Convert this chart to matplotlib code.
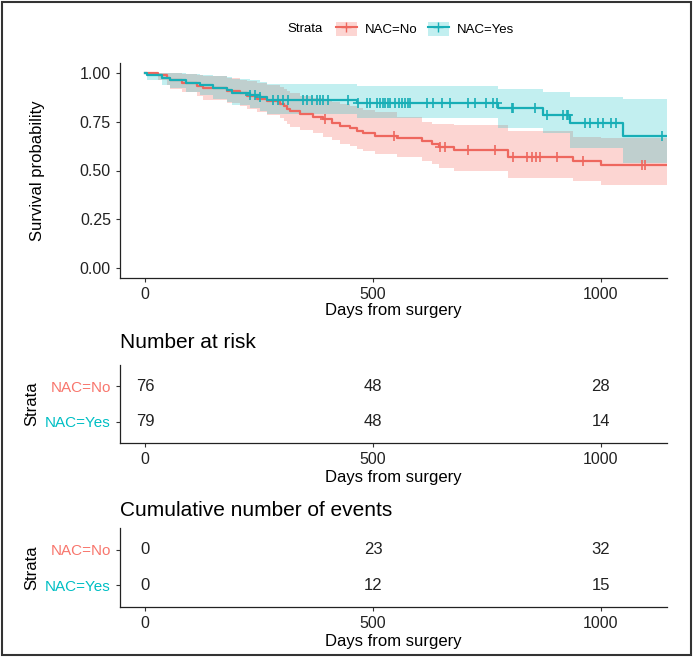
import numpy as np
import matplotlib
matplotlib.use("Agg")
import matplotlib.pyplot as plt
from matplotlib.lines import Line2D
from matplotlib.patches import Patch, Rectangle

plt.rcParams['font.family'] = ['Liberation Sans', 'DejaVu Sans']

# --- data ---
last_day = 1145

no_t = [0, 29, 48, 55, 80, 113, 128, 179, 208, 223, 245, 267, 296, 305, 311, 318, 340, 369,
        391, 409, 428, 450, 464, 479, 504, 552, 607, 629, 645, 678, 797, 938, 1001]
no_s = [1.0, 0.987, 0.974, 0.961, 0.947, 0.934, 0.921, 0.908, 0.895, 0.882, 0.868, 0.855,
        0.842, 0.829, 0.816, 0.803, 0.789, 0.776, 0.762, 0.745, 0.728, 0.715, 0.702, 0.690,
        0.677, 0.665, 0.650, 0.637, 0.620, 0.604, 0.569, 0.547, 0.527]
no_hi = [1.0, 1.0, 1.0, 1.0, 0.995, 0.99, 0.985, 0.975, 0.965, 0.958, 0.948, 0.937, 0.925,
         0.915, 0.905, 0.895, 0.88, 0.87, 0.86, 0.85, 0.84, 0.83, 0.82, 0.81, 0.80, 0.776,
         0.748, 0.740, 0.736, 0.732, 0.700, 0.673, 0.665]
no_lo = [1.0, 0.962, 0.94, 0.918, 0.90, 0.88, 0.862, 0.845, 0.83, 0.815, 0.80, 0.785, 0.768,
         0.752, 0.738, 0.722, 0.706, 0.69, 0.673, 0.655, 0.638, 0.623, 0.61, 0.598, 0.585,
         0.567, 0.548, 0.532, 0.515, 0.50, 0.463, 0.445, 0.424]
no_cens = [395, 545, 647, 658, 709, 768, 808, 837, 848, 858, 866, 903, 961, 1090, 1096]

yes_t = [0, 4, 37, 55, 90, 121, 150, 179, 190, 230, 252, 267, 464, 775, 873, 932, 1049]
yes_s = [1.0, 0.987, 0.975, 0.962, 0.949, 0.937, 0.924, 0.911, 0.899, 0.886, 0.874, 0.861,
         0.847, 0.819, 0.783, 0.744, 0.677]
yes_hi = [1.0, 1.0, 1.0, 1.0, 0.995, 0.99, 0.985, 0.977, 0.97, 0.962, 0.953, 0.945, 0.934,
          0.918, 0.90, 0.875, 0.867]
yes_lo = [1.0, 0.962, 0.94, 0.92, 0.90, 0.885, 0.866, 0.85, 0.835, 0.82, 0.805, 0.788, 0.770,
          0.716, 0.690, 0.614, 0.539]
yes_cens = [230, 241, 252, 281, 292, 303, 314, 347, 355, 366, 377, 384, 391, 402, 446, 468,
            486, 493, 508, 515, 523, 526, 534, 537, 548, 556, 563, 570, 577, 581, 618, 632,
            651, 669, 709, 724, 749, 764, 771, 804, 808, 855, 881, 917, 925, 928, 965, 976,
            994, 1005, 1023, 1034, 1133]

groups = ['NAC=No', 'NAC=Yes']
table_days = [0, 500, 1000]
at_risk_no = [76, 48, 28]
at_risk_yes = [79, 48, 14]
events_no = [0, 23, 32]
events_yes = [0, 12, 15]

red = '#F8766D'
teal = '#00BFC4'
red_line = '#EE675E'
teal_line = '#17AEB6'

fig = plt.figure(figsize=(6.93, 6.57), dpi=100)
W, H = 693, 657


def box(l, t, r, b):
    return [l / W, 1 - b / H, (r - l) / W, (b - t) / H]


def style(ax):
    for s in ['top', 'right']:
        ax.spines[s].set_visible(False)
    for s in ['left', 'bottom']:
        ax.spines[s].set_linewidth(0.9)
        ax.spines[s].set_color('#222222')
    ax.tick_params(length=3, width=0.8, color='#333333', labelsize=11.5, labelcolor='#222222')
    ax.set_xlim(-55, last_day)
    ax.set_xticks(table_days)


# main survival plot
ax = fig.add_axes(box(120, 63, 667, 278))
style(ax)
for t, s, lo, hi, cens, cf, cl, al in [(no_t, no_s, no_lo, no_hi, no_cens, red, red_line, 0.3),
                                        (yes_t, yes_s, yes_lo, yes_hi, yes_cens, teal, teal_line, 0.24)]:
    te = np.append(t, last_day)
    se = np.append(s, s[-1])
    ax.fill_between(te, np.append(lo, lo[-1]), np.append(hi, hi[-1]), step='post',
                    color=cf, alpha=al, lw=0)
    ax.step(te, se, where='post', color=cl, lw=1.6)
    idx = np.searchsorted(t, cens, side='right') - 1
    ax.plot(cens, np.array(s)[idx], ls='none', marker='+', ms=7.5, mew=1.2, color=cl)
ax.set_ylim(-0.05, 1.05)
ax.set_yticks([0, 0.25, 0.5, 0.75, 1.0])
ax.set_yticklabels(['0.00', '0.25', '0.50', '0.75', '1.00'])
ax.set_ylabel('Survival probability', fontsize=12, labelpad=25)
ax.set_xlabel('Days from surgery', fontsize=12, labelpad=1)

# legend
fig.text(287 / W, 1 - 29 / H, 'Strata', fontsize=9.5, va='center', ha='left')
handles = [(Patch(facecolor=red, alpha=0.3, lw=0), Line2D([], [], color=red_line, marker='+', ms=7, lw=1.5)),
           (Patch(facecolor=teal, alpha=0.24, lw=0), Line2D([], [], color=teal_line, marker='+', ms=7, lw=1.5))]
fig.legend(handles, groups, loc='center left', bbox_to_anchor=(329 / W, 1 - 29 / H), ncol=2,
           frameon=False, fontsize=9.5, borderpad=0, handlelength=1.6, handleheight=1.3,
           handletextpad=0.6, columnspacing=0.8)


def table(bounds, title, title_y, vals_no, vals_yes):
    tx = fig.add_axes(bounds)
    style(tx)
    tx.set_ylim(0.4, 2.6)
    tx.set_yticks([2, 1])
    tx.set_yticklabels(groups, fontsize=11)
    tx.get_yticklabels()[0].set_color(red)
    tx.get_yticklabels()[1].set_color(teal)
    for d, a, b in zip(table_days, vals_no, vals_yes):
        tx.text(d, 2, str(a), ha='center', va='center', fontsize=12, color='#222222')
        tx.text(d, 1, str(b), ha='center', va='center', fontsize=12, color='#222222')
    tx.set_xlabel('Days from surgery', fontsize=12, labelpad=2)
    tx.set_ylabel('Strata', fontsize=12, labelpad=4)
    fig.text(120 / W, 1 - title_y / H, title, fontsize=15, va='center', ha='left')
    return tx


table(box(120, 365, 667, 443), 'Number at risk', 343, at_risk_no, at_risk_yes)
table(box(120, 528, 667, 607), 'Cumulative number of events', 510, events_no, events_yes)

fig.patches.append(Rectangle((2 / W, 2 / H), 1 - 4 / W, 1 - 4 / H, transform=fig.transFigure,
                             fill=False, edgecolor='#333333', lw=1.5))

fig.savefig('out.png', dpi=100)
